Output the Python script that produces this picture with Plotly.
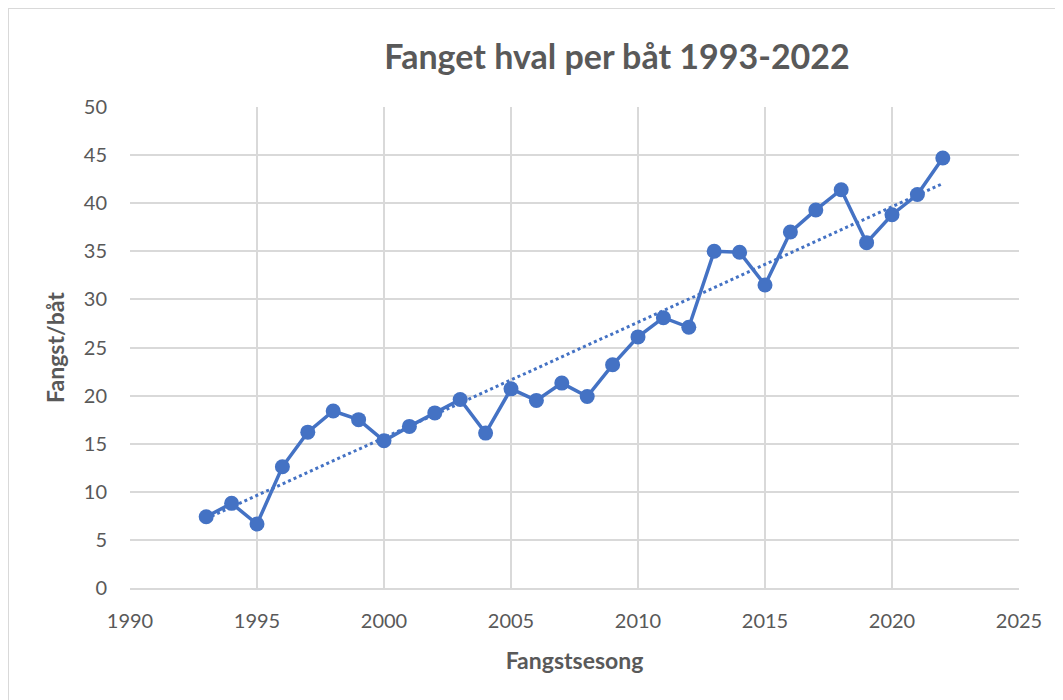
import numpy as np
import plotly.graph_objects as go

years = list(range(1993, 2023))
catch_per_boat = [7.4, 8.8, 6.65, 12.6, 16.2, 18.4, 17.5, 15.3, 16.8, 18.2,
                  19.6, 16.1, 20.7, 19.5, 21.3, 19.9, 23.2, 26.1, 28.1, 27.1,
                  35.0, 34.9, 31.5, 37.0, 39.3, 41.4, 35.9, 38.8, 40.9, 44.7]

title_text = "Fanget hval per båt 1993-2022"
x_title = "Fangstsesong"
y_title = "Fangst/båt"

# Linear trendline (like Excel's)
coef = np.polyfit(years, catch_per_boat, 1)
trend = np.polyval(coef, years)

# page body has an 8px margin, so figure coords = screen coords - 8
OFF = 8
W, H = 1063 - OFF, 700 - OFF
L, R, T, B = 130 - OFF, 1019 - OFF, 107 - OFF, 588 - OFF
blue = "#4472C4"
grey_text = "#595959"
grid = "#d9d9d9"
FONT = "Lato, 'Open Sans', sans-serif"

fig = go.Figure()
fig.add_trace(go.Scatter(x=years, y=trend, mode="lines",
                         line=dict(color=blue, width=3, dash="dot"),
                         hoverinfo="skip", showlegend=False))
fig.add_trace(go.Scatter(x=years, y=catch_per_boat, mode="lines+markers",
                         line=dict(color=blue, width=3.5),
                         marker=dict(color=blue, size=15),
                         showlegend=False))

def px_x(px):
    return (px - L) / (R - L)

def px_y(py):
    return (B - py) / (B - T)

fig.update_layout(
    width=W, height=H,
    margin=dict(l=L, r=W - R, t=T, b=H - B),
    paper_bgcolor="white", plot_bgcolor="white",
    font=dict(family=FONT, color=grey_text),
    title=dict(text=title_text, x=(617 - OFF) / W, xanchor="center",
               y=1 - (57 - OFF) / H, yanchor="middle",
               font=dict(size=34, color=grey_text, family=FONT, weight="bold")),
    xaxis=dict(range=[1990, 2025], dtick=5, tick0=1990,
               showgrid=True, gridcolor=grid, gridwidth=1.5,
               zeroline=False, showline=True, linecolor=grid, linewidth=1.5, mirror=False,
               ticks="", tickfont=dict(size=20, color=grey_text), ticklabelstandoff=14,
               title=dict(text=x_title, font=dict(size=23, color=grey_text, weight="bold"), standoff=22)),
    yaxis=dict(range=[0, 50], dtick=5, tick0=0,
               showgrid=True, gridcolor=grid, gridwidth=1.5,
               zeroline=False, showline=False,
               ticks="", tickfont=dict(size=20, color=grey_text), ticklabelstandoff=22,
               title=dict(text=y_title, font=dict(size=23, color=grey_text, weight="bold"), standoff=12)),
    shapes=[
        dict(type="line", xref="paper", yref="paper",
             x0=px_x(0), x1=px_x(0), y0=px_y(0), y1=px_y(H),
             line=dict(color="#d9d9d9", width=2)),
        dict(type="line", xref="paper", yref="paper",
             x0=px_x(0), x1=px_x(W), y0=px_y(0), y1=px_y(0),
             line=dict(color="#d9d9d9", width=2)),
    ],
)

fig.write_html("out.html")
